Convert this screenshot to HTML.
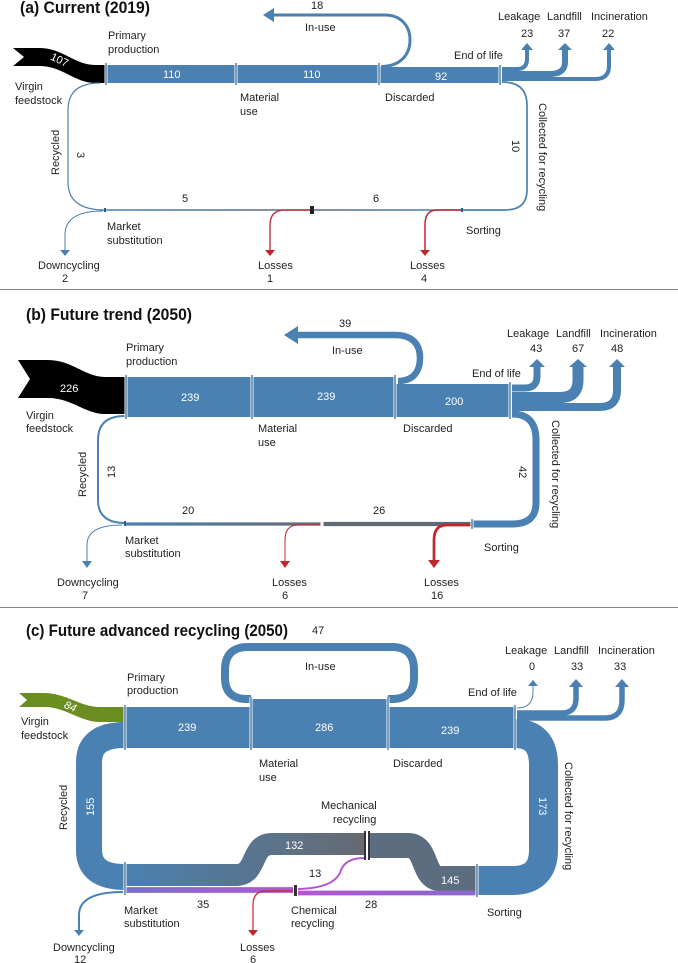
<!DOCTYPE html>
<html><head><meta charset="utf-8"><style>
html,body{margin:0;padding:0;background:#fff}
svg{display:block}
text{font-family:"Liberation Sans",sans-serif;font-size:11px;fill:#222}
.t{font-size:17px;font-weight:bold;fill:#111}
.w{fill:#fff}
</style></head><body>
<svg width="678" height="963" viewBox="0 0 678 963" xmlns="http://www.w3.org/2000/svg">
<defs>
<linearGradient id="gb" gradientUnits="userSpaceOnUse" x1="105" y1="0" x2="462" y2="0"><stop offset="0" stop-color="#4a80b2"/><stop offset="0.55" stop-color="#5d6a78"/><stop offset="1" stop-color="#4a80b2"/></linearGradient>
<linearGradient id="gm" x1="0" x2="1"><stop offset="0" stop-color="#4a80b2"/><stop offset="1" stop-color="#666a70"/></linearGradient>
<linearGradient id="gm2" gradientUnits="userSpaceOnUse" x1="125" y1="0" x2="322" y2="0"><stop offset="0" stop-color="#4a80b2"/><stop offset="1" stop-color="#666a70"/></linearGradient>
<linearGradient id="gp" gradientUnits="userSpaceOnUse" x1="125" y1="0" x2="477" y2="0"><stop offset="0" stop-color="#7a70c8"/><stop offset="0.5" stop-color="#b455d6"/><stop offset="1" stop-color="#8a68c8"/></linearGradient>
</defs>
<g fill="none" stroke-linecap="butt">
<!-- ===== (a) ===== -->
<path d="M13 48 L40 48 C62 48 75 65 95 65 L105 65 L105 83 L95 83 C75 83 62 66 40 66 L13 66 L24 57 Z" fill="#000" stroke="none"/>
<rect x="105" y="65" width="275" height="18" fill="#4a80b2"/>
<rect x="380" y="67" width="120" height="16" fill="#4a80b2"/>
<path d="M381 66.5 C400 66.5 410 55 410 40 C410 25 400 15 385 15 L272 15" stroke="#4a80b2" stroke-width="3"/>
<polygon points="263,15 274,8 274,22" fill="#4a80b2"/>
<path d="M502 69 L517 69 Q527 69 527 59 L527 49" stroke="#4a80b2" stroke-width="4"/>
<polygon points="527,43 521,50 533,50" fill="#4a80b2"/>
<path d="M502 74 L550 74 Q565 74 565 62 L565 49" stroke="#4a80b2" stroke-width="6"/>
<polygon points="565,43 558,50 572,50" fill="#4a80b2"/>
<path d="M502 79 L595 79 Q609 79 609 66 L609 49" stroke="#4a80b2" stroke-width="4"/>
<polygon points="609,43 603,50 615,50" fill="#4a80b2"/>
<path d="M502 82 Q527 82 527 105 L527 190 Q527 210 505 210 L462 210" stroke="#4a80b2" stroke-width="1.7"/>
<path d="M105 210 L462 210" stroke="url(#gb)" stroke-width="1.5"/>
<path d="M312 210 L285 210 Q270 210 270 225 L270 250" stroke="#c0272d" stroke-width="1.3"/>
<polygon points="270,256 265,250 275,250" fill="#c0272d"/>
<path d="M462 210 L437 210 Q425 210 425 225 L425 250" stroke="#c0272d" stroke-width="1.5"/>
<polygon points="425,256 420,250 430,250" fill="#c0272d"/>
<path d="M105 210 Q68 210 68 182 L68 110 Q68 83 100 83" stroke="#4a80b2" stroke-width="1.2"/>
<path d="M103 211 Q65 211 65 235 L65 250" stroke="#4a80b2" stroke-width="1"/>
<polygon points="65,256 60,250 70,250" fill="#4a80b2"/>
<rect x="310" y="206" width="4" height="8" fill="#222" stroke="none"/>
<g stroke="#fff" stroke-width="3"><path d="M106 63V85M236 63V85M379 63V85M500 65V85"/></g>
<g stroke="#2a5f96" stroke-width="1.2"><path d="M106 63V85M236 63V85M379 63V85M500 65V85"/></g>
<rect x="104" y="208" width="2" height="4" fill="#2a5f96" stroke="none"/>
<rect x="461" y="208" width="2" height="4" fill="#2a5f96" stroke="none"/>
<path d="M0 289.5H678" stroke="#888" stroke-width="1"/>

<!-- ===== (b) ===== -->
<path d="M18 360 L48 360 C72 360 85 377 105 377 L125 377 L125 414 L105 414 C85 414 72 398 48 398 L18 398 L30 379 Z" fill="#000" stroke="none"/>
<rect x="125" y="377" width="271" height="40" fill="#4a80b2"/>
<rect x="396" y="384" width="114" height="33" fill="#4a80b2"/>
<path d="M398 381 C418 381 420 365 420 358 C420 342 410 335 395 335 L297 335" stroke="#4a80b2" stroke-width="6.5"/>
<polygon points="284,335 298,326 298,344" fill="#4a80b2"/>
<path d="M512 388 L525 388 Q537 388 537 376 L537 366" stroke="#4a80b2" stroke-width="7"/>
<polygon points="537,359 529,367 545,367" fill="#4a80b2"/>
<path d="M512 397.5 L560 397.5 Q578 397.5 578 380 L578 366" stroke="#4a80b2" stroke-width="11"/>
<polygon points="578,359 569,367 587,367" fill="#4a80b2"/>
<path d="M512 407 L600 407 Q617 407 617 390 L617 366" stroke="#4a80b2" stroke-width="8"/>
<polygon points="617,359 609,367 625,367" fill="#4a80b2"/>
<path d="M512 414 Q536 414 536 440 L536 503 Q536 524 512 524 L472 524" stroke="#4a80b2" stroke-width="7"/>
<path d="M472 524 L322 524" stroke="#5e6a76" stroke-width="4.3"/>
<path d="M322 524 L125 524" stroke="url(#gm2)" stroke-width="3.3"/>
<path d="M470 525 L447 525 Q434 525 434 540 L434 561" stroke="#c0272d" stroke-width="2.7"/>
<polygon points="434,568 428,560 440,560" fill="#c0272d"/>
<path d="M322 525 L298 525 Q285 525 285 540 L285 561" stroke="#c0272d" stroke-width="1"/>
<polygon points="285,568 280,561 290,561" fill="#c0272d"/>
<path d="M125 523 Q98 523 98 500 L98 440 Q98 416 125 416" stroke="#4a80b2" stroke-width="2"/>
<path d="M122 525 Q87 525 87 545 L87 561" stroke="#4a80b2" stroke-width="1"/>
<polygon points="87,568 82,561 92,561" fill="#4a80b2"/>
<g stroke="#fff" stroke-width="3"><path d="M126 375V419M252 375V419M395 375V419M510 382V419M472 519V529M322 521V527"/></g>
<g stroke="#2a5f96" stroke-width="1.2"><path d="M126 375V419M252 375V419M395 375V419M510 382V419M472 519V529"/></g>
<rect x="124" y="521" width="2" height="5" fill="#2a5f96" stroke="none"/>
<path d="M0 607.5H678" stroke="#888" stroke-width="1"/>

<!-- ===== (c) ===== -->
<path d="M19 693 L44 693 C66 693 80 707 100 707 L125 707 L125 722 L100 722 C80 722 66 707 44 707 L19 707 L27 700 Z" fill="#6b8e23" stroke="none"/>
<path d="M247 703 L247 699 Q225 699 225 678 L225 670 Q225 647 248 647 L392 647 Q414 647 414 670 L414 678 Q414 699 392 699 L392 703" stroke="#4a80b2" stroke-width="8"/>
<rect x="125" y="707" width="126" height="41" fill="#4a80b2"/>
<rect x="251" y="699" width="137" height="49" fill="#4a80b2"/>
<rect x="388" y="707" width="127" height="41" fill="#4a80b2"/>
<path d="M517 708 Q533 708 533 692 L533 686" stroke="#4a80b2" stroke-width="1"/>
<polygon points="533,680 528,686 538,686" fill="#4a80b2"/>
<path d="M517 713 L562 713 Q576 713 576 698 L576 686" stroke="#4a80b2" stroke-width="5.5"/>
<polygon points="576,679 569,687 583,687" fill="#4a80b2"/>
<path d="M517 718 L605 718 Q622 718 622 700 L622 686" stroke="#4a80b2" stroke-width="5.5"/>
<polygon points="622,679 615,687 629,687" fill="#4a80b2"/>
<path d="M515 733.5 Q543.5 733.5 543.5 765 L543.5 850 Q543.5 880.5 512 880.5 L477 880.5" stroke="#4a80b2" stroke-width="29"/>
<path d="M477 878.5 L440 878.5 C422 878.5 428 845.5 408 845.5 L368 845.5" stroke="#5c6d80" stroke-width="25"/>
<path d="M366 844 L272 844 C250 844 258 875 236 875 L125 875" stroke="url(#gm)" stroke-width="22"/>
<path d="M477 893 L298 893" stroke="url(#gp)" stroke-width="4.7"/>
<path d="M293 890 L125 890" stroke="url(#gp)" stroke-width="5.8"/>
<path d="M364 858 Q346 858 341 870 Q336 888 298 889" stroke="#b455d6" stroke-width="2"/>
<path d="M293 891 L266 891 Q253 891 253 905 L253 930" stroke="#c0272d" stroke-width="1.2"/>
<polygon points="253,936 248,930 258,930" fill="#c0272d"/>
<path d="M125 877 Q89 877 89 850 L89 762 Q89 735 125 735" stroke="#4a80b2" stroke-width="26"/>
<path d="M123 892 Q79 892 79 915 L79 930" stroke="#4a80b2" stroke-width="2"/>
<polygon points="79,936 74,930 84,930" fill="#4a80b2"/>
<g stroke="#fff" stroke-width="3"><path d="M125 705V750M251 697V750M388 697V750M515 705V750M477 864V897M125 862V895"/></g>
<g stroke="#2a5f96" stroke-width="1.2"><path d="M125 705V750M251 697V750M388 697V750M515 705V750M477 864V897M125 862V895"/></g>
<rect x="364" y="831" width="6" height="29" fill="#fff" stroke="none"/>
<rect x="364" y="831" width="2" height="29" fill="#333" stroke="none"/>
<rect x="368" y="831" width="2" height="29" fill="#333" stroke="none"/>
<rect x="293" y="885" width="5" height="11" fill="#fff" stroke="none"/>
<rect x="294" y="885" width="3" height="11" fill="#333" stroke="none"/>
</g>

<!-- ===== text (a) ===== -->
<text class="t" x="20" y="13" textLength="130" lengthAdjust="spacingAndGlyphs">(a) Current (2019)</text>
<text x="311" y="9">18</text>
<text x="305" y="31">In-use</text>
<text x="108" y="39">Primary</text><text x="108" y="53">production</text>
<text x="15" y="90">Virgin</text><text x="15" y="104">feedstock</text>
<text class="w" x="50" y="62" transform="rotate(25 56 60)">107</text>
<text class="w" x="163" y="78">110</text>
<text class="w" x="303" y="78">110</text>
<text class="w" x="435" y="80">92</text>
<text x="240" y="101">Material</text><text x="240" y="115">use</text>
<text x="385" y="101">Discarded</text>
<text x="454" y="59">End of life</text>
<text x="498" y="20">Leakage</text><text x="521" y="37">23</text>
<text x="547" y="20">Landfill</text><text x="558" y="37">37</text>
<text x="591" y="20">Incineration</text><text x="602" y="37">22</text>
<text x="59" y="175" transform="rotate(-90 59 175)">Recycled</text>
<text x="77" y="152" transform="rotate(90 77 152)">3</text>
<text x="512" y="140" transform="rotate(90 512 140)">10</text>
<text x="539" y="103" transform="rotate(90 539 103)">Collected for recycling</text>
<text x="182" y="202">5</text><text x="373" y="202">6</text>
<text x="107" y="230">Market</text><text x="107" y="244">substitution</text>
<text x="466" y="234">Sorting</text>
<text x="38" y="269">Downcycling</text><text x="62" y="282">2</text>
<text x="258" y="269">Losses</text><text x="267" y="282">1</text>
<text x="410" y="269">Losses</text><text x="421" y="282">4</text>

<!-- ===== text (b) ===== -->
<text class="t" x="26" y="320" textLength="166" lengthAdjust="spacingAndGlyphs">(b) Future trend (2050)</text>
<text x="339" y="327">39</text>
<text x="332" y="354">In-use</text>
<text x="126" y="351">Primary</text><text x="126" y="365">production</text>
<text x="26" y="419">Virgin</text><text x="26" y="432">feedstock</text>
<text class="w" x="60" y="392">226</text>
<text class="w" x="181" y="401">239</text>
<text class="w" x="317" y="400">239</text>
<text class="w" x="445" y="405">200</text>
<text x="258" y="432">Material</text><text x="258" y="446">use</text>
<text x="403" y="432">Discarded</text>
<text x="472" y="377">End of life</text>
<text x="507" y="337">Leakage</text><text x="530" y="352">43</text>
<text x="556" y="337">Landfill</text><text x="572" y="352">67</text>
<text x="600" y="337">Incineration</text><text x="611" y="352">48</text>
<text x="86" y="497" transform="rotate(-90 86 497)">Recycled</text>
<text x="115" y="478" transform="rotate(-90 115 478)">13</text>
<text x="519" y="466" transform="rotate(90 519 466)">42</text>
<text x="552" y="420" transform="rotate(90 552 420)">Collected for recycling</text>
<text x="182" y="514">20</text><text x="373" y="514">26</text>
<text x="125" y="544">Market</text><text x="125" y="557">substitution</text>
<text x="484" y="551">Sorting</text>
<text x="57" y="586">Downcycling</text><text x="82" y="599">7</text>
<text x="272" y="586">Losses</text><text x="282" y="599">6</text>
<text x="424" y="586">Losses</text><text x="431" y="599">16</text>

<!-- ===== text (c) ===== -->
<text class="t" x="26" y="636" textLength="262" lengthAdjust="spacingAndGlyphs">(c) Future advanced recycling (2050)</text>
<text x="312" y="634">47</text>
<text x="305" y="670">In-use</text>
<text x="127" y="681">Primary</text><text x="127" y="694">production</text>
<text x="21" y="725">Virgin</text><text x="21" y="739">feedstock</text>
<text class="w" x="64" y="710" font-style="italic" transform="rotate(22 70 707)">84</text>
<text class="w" x="178" y="731">239</text>
<text class="w" x="315" y="731">286</text>
<text class="w" x="441" y="734">239</text>
<text x="259" y="767">Material</text><text x="259" y="781">use</text>
<text x="393" y="767">Discarded</text>
<text x="468" y="696">End of life</text>
<text x="505" y="654">Leakage</text><text x="529" y="670">0</text>
<text x="554" y="654">Landfill</text><text x="571" y="670">33</text>
<text x="598" y="654">Incineration</text><text x="614" y="670">33</text>
<text x="67" y="830" transform="rotate(-90 67 830)">Recycled</text>
<text class="w" x="94" y="816" transform="rotate(-90 94 816)">155</text>
<text class="w" x="539" y="797" transform="rotate(90 539 797)">173</text>
<text x="565" y="762" transform="rotate(90 565 762)">Collected for recycling</text>
<text x="321" y="809">Mechanical</text><text x="333" y="823">recycling</text>
<text class="w" x="285" y="849">132</text>
<text class="w" x="441" y="884">145</text>
<text x="309" y="877">13</text>
<text x="197" y="908">35</text><text x="365" y="908">28</text>
<text x="124" y="914">Market</text><text x="124" y="927">substitution</text>
<text x="291" y="914">Chemical</text><text x="291" y="927">recycling</text>
<text x="487" y="916">Sorting</text>
<text x="53" y="951">Downcycling</text><text x="74" y="963">12</text>
<text x="240" y="951">Losses</text><text x="250" y="963">6</text>
</svg>
</body></html>
